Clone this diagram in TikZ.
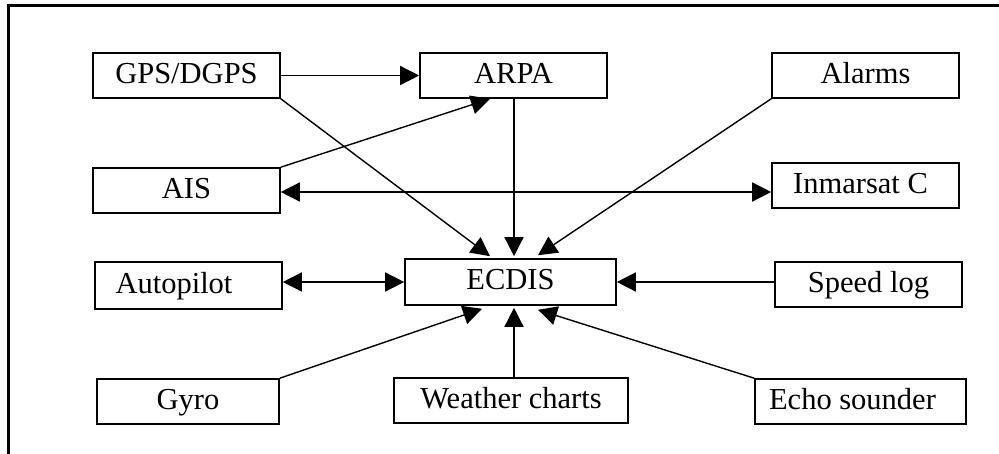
\documentclass[tikz,border=0pt]{standalone}
\usepackage{fontspec}
\setmainfont{Liberation Serif}
\usetikzlibrary{arrows.meta,calc}
\begin{document}
\begin{tikzpicture}[x=1pt,y=-1pt,
  box/.style={draw, line width=1.6pt, inner sep=0pt, minimum width=187pt,
    minimum height=45pt, text height=21pt, text depth=6pt,
    font=\fontsize{30.5}{36}\selectfont},
  link/.style={line width=1.4pt, -{Triangle[length=19pt,width=19pt]}},
  both/.style={line width=1.4pt,
    {Triangle[length=19pt,width=19pt]}-{Triangle[length=19pt,width=19pt]}}]
\useasboundingbox (0,0) rectangle (999,453);
% outer frame
\draw[line width=2.7pt] (8.5,460) -- (8.5,5.3) -- (1005,5.3);

% equipment boxes
\node[box] (gps)     at (186.5,75.5)  {GPS/DGPS};
\node[box] (arpa)    at (513.5,75.5)  {ARPA};
\node[box] (alarms)  at (865.5,75.5)  {Alarms};
\node[box] (ais)     at (186.5,190.5) {AIS};
\node[box] (inm)     at (865.5,185.5) {\hspace*{-10pt}Inmarsat C};
\node[box, minimum height=47pt] (auto) at (188.5,285.5) {\hspace*{-29pt}Autopilot};
\node[box, minimum width=211pt, minimum height=46pt] (ecdis) at (510.5,282) {ECDIS};
\node[box] (speed)   at (868.5,284.5) {Speed log};
\node[box, minimum width=182pt] (gyro) at (188,401.5) {Gyro};
\node[box, minimum width=234pt] (weather) at (511,400.5) {Weather charts};
\node[box, minimum width=211pt] (echo) at (860.5,401.5) {\hspace*{-16pt}Echo sounder};

% data links
\coordinate (aisr) at ([yshift=-1.5pt]ais.east);
\draw[link] (gps) -- (arpa);
\draw[link] (gps.south east) -- ([shift={(-20.5,-2)}]ecdis.north);
\draw[link] (ais.north east) -- ([shift={(-23.5,0)}]arpa.south);
\draw[link] ([xshift=0.5pt]arpa.south) -- ([shift={(3.5,-2)}]ecdis.north);
\draw[link] (alarms.south west) -- ([shift={(27.5,-3)}]ecdis.north);
\draw[both] (aisr) -- (aisr -| inm.west);
\draw[both] (auto.east |- ecdis) -- (ecdis.west);
\draw[link] (speed.west |- ecdis) -- (ecdis.east);
\draw[link] (gyro.north east) -- ([shift={(-28.5,3)}]ecdis.south);
\draw[link] ([xshift=3pt]weather.north) -- ([shift={(3.5,2)}]ecdis.south);
\draw[link] (echo.north west) -- ([shift={(27.5,4)}]ecdis.south);
\end{tikzpicture}
\end{document}
